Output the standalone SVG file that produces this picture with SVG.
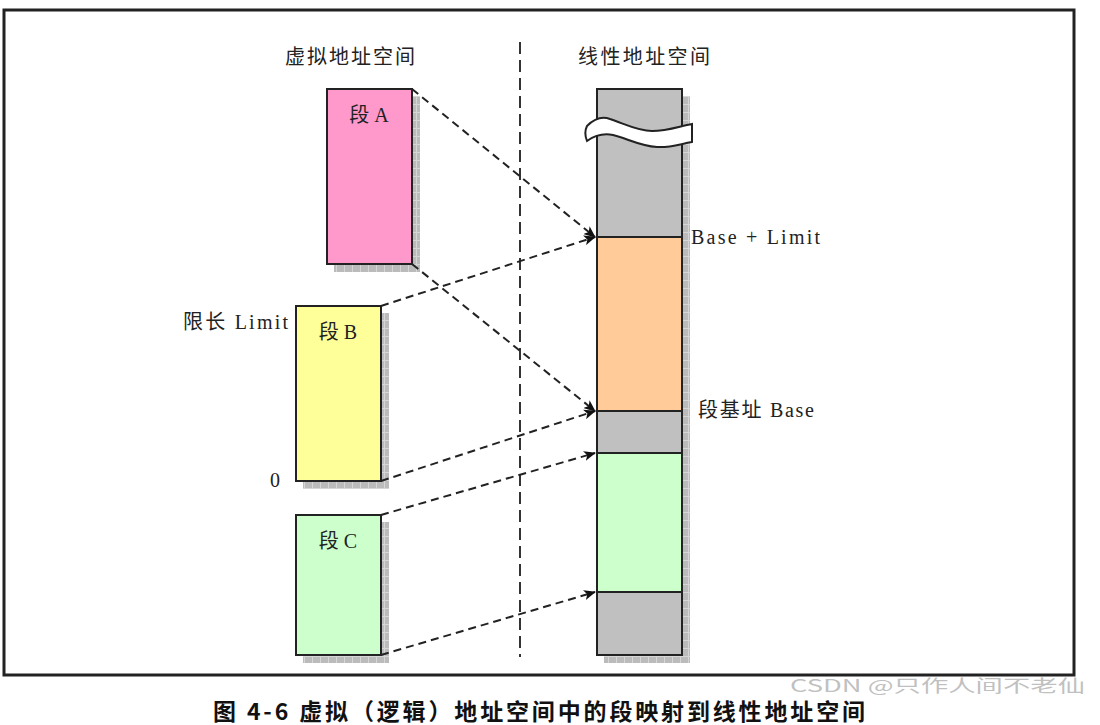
<svg xmlns="http://www.w3.org/2000/svg" width="1100" height="725" viewBox="0 0 1100 725">
<defs>
<pattern id="sh" width="8" height="8" patternUnits="userSpaceOnUse">
<rect width="8" height="8" fill="#bbbbbb"/>
<path d="M0,0.5H8M0.5,0V8" stroke="#d6d6d6" stroke-width="1"/>
</pattern>
<marker id="ah" viewBox="0 0 12 10" refX="11" refY="5" markerWidth="12" markerHeight="10" markerUnits="userSpaceOnUse" orient="auto">
<path d="M0,0 L12,5 L0,10 L3,5 Z" fill="#111"/>
</marker>
</defs>
<style>
.t{font-family:"Liberation Serif","Noto Sans CJK SC",serif;font-size:20px;fill:#222}
.box{stroke:#222;stroke-width:2}
.sh{fill:url(#sh)}
.con{fill:none;stroke:#222;stroke-width:2;stroke-dasharray:8 5;marker-end:url(#ah)}
</style>
<rect x="0" y="0" width="1100" height="725" fill="#fff"/>
<rect x="4" y="10" width="1070" height="665" fill="none" stroke="#222" stroke-width="3"/>

<g id="titles">
<text class="t" x="350" y="64" text-anchor="middle" textLength="130">虚拟地址空间</text>
<text class="t" x="644" y="64" text-anchor="middle" textLength="132">线性地址空间</text>
</g>

<line id="divider" x1="520" y1="42" x2="520" y2="657" stroke="#333" stroke-width="2" stroke-dasharray="12 6"/>

<g id="segA">
<rect class="sh" x="412" y="96" width="8" height="176"/>
<rect class="sh" x="334" y="264" width="86" height="8"/>
<rect class="box" x="327" y="89" width="85" height="175" fill="#ff99cc"/>
<text class="t" x="369" y="122" text-anchor="middle">段 A</text>
</g>

<g id="segB">
<rect class="sh" x="381" y="313" width="8" height="176"/>
<rect class="sh" x="303" y="481" width="86" height="8"/>
<rect class="box" x="296" y="306" width="85" height="175" fill="#ffff99"/>
<text class="t" x="338" y="339" text-anchor="middle">段 B</text>
<text class="t" x="183" y="329" textLength="105">限长 Limit</text>
<text class="t" x="270" y="487">0</text>
</g>

<g id="segC">
<rect class="sh" x="381" y="522" width="8" height="141"/>
<rect class="sh" x="303" y="655" width="86" height="8"/>
<rect class="box" x="296" y="515" width="85" height="140" fill="#ccffcc"/>
<text class="t" x="338" y="548" text-anchor="middle">段 C</text>
</g>

<g id="linear">
<rect class="sh" x="682" y="96" width="8" height="567"/>
<rect class="sh" x="604" y="655" width="86" height="8"/>
<rect class="box" x="597" y="89" width="85" height="148" fill="#c0c0c0"/>
<rect class="box" x="597" y="237" width="85" height="174" fill="#ffcc99"/>
<rect class="box" x="597" y="411" width="85" height="42" fill="#c0c0c0"/>
<rect class="box" x="597" y="453" width="85" height="139" fill="#ccffcc"/>
<rect class="box" x="597" y="592" width="85" height="63" fill="#c0c0c0"/>
<path d="M587,126 C595,118 602,116 610,119 C625,124 638,131 652,131 C668,131 680,126 692,124 L692,142 C680,144 670,148 657,147 C640,146 626,138 613,135 C603,133 594,136 587,141 C585,136 585,130 587,126 Z" fill="#fff" stroke="#222" stroke-width="2"/>
<text class="t" x="691" y="244" textLength="129">Base + Limit</text>
<text class="t" x="698" y="417" textLength="116">段基址 Base</text>
</g>

<g id="connectors">
<line class="con" x1="412" y1="89" x2="595" y2="237"/>
<line class="con" x1="412" y1="264" x2="595" y2="411"/>
<line class="con" x1="381" y1="306" x2="595" y2="237"/>
<line class="con" x1="381" y1="481" x2="595" y2="411"/>
<line class="con" x1="381" y1="515" x2="595" y2="453"/>
<line class="con" x1="381" y1="655" x2="595" y2="592"/>
</g>

<g id="caption">
<text x="213" y="720" font-family="'Noto Sans CJK SC',sans-serif" font-size="23" font-weight="bold" fill="#111" textLength="652">图 4-6 虚拟（逻辑）地址空间中的段映射到线性地址空间</text>
<text x="790" y="692" font-family="'Noto Sans CJK SC',sans-serif" font-size="17" fill="#b5b5b5" fill-opacity="0.85" textLength="295" lengthAdjust="spacingAndGlyphs">CSDN @只作人间不老仙</text>
</g>
</svg>
